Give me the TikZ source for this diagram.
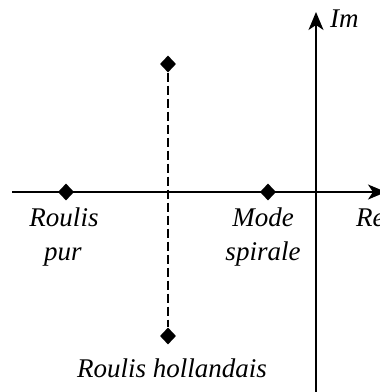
\documentclass[tikz,border=0pt]{standalone}
\usepackage{fontspec}
\setmainfont{Liberation Serif}
\usetikzlibrary{shapes.geometric,arrows.meta}
\begin{document}
\begin{tikzpicture}[x=1pt,y=-1pt,
  pole/.style={diamond,fill=black,inner sep=0pt,minimum width=16pt,minimum height=17pt},
  axis/.style={line width=1.9pt,-{Stealth[length=18pt,width=15pt,inset=5pt]}},
  lbl/.style={font=\fontsize{27}{34}\selectfont\itshape,inner sep=0pt,anchor=base}]
\useasboundingbox (0,0) rectangle (380,392);
\coordinate (xl) at (12,192);
\coordinate (xr) at (386,192);
\coordinate (yb) at (316,396);
\coordinate (yt) at (316,12);
\draw[axis] (xl) -- (xr);
\draw[axis] (yb) -- (yt);
\node[pole] (p1) at (66,192) {};
\node[pole] (p2) at (268,192) {};
\node[pole] (p3) at (168,64) {};
\node[pole] (p4) at (168,336) {};
\draw[line width=1.4pt,dash pattern=on 9pt off 4pt] (p3) -- (p4);
\node[lbl] (l1a) at (64,226) {Roulis};
\node[lbl] (l1b) at (63,260) {pur};
\node[lbl] (l2a) at (263,226) {Mode};
\node[lbl] (l2b) at (263,260) {spirale};
\node[lbl] (l3) at (172,377) {Roulis hollandais};
\node[lbl,anchor=base west] (re) at (356,226) {Re};
\node[lbl,anchor=base west] (im) at (330,27) {Im};
\end{tikzpicture}
\end{document}
